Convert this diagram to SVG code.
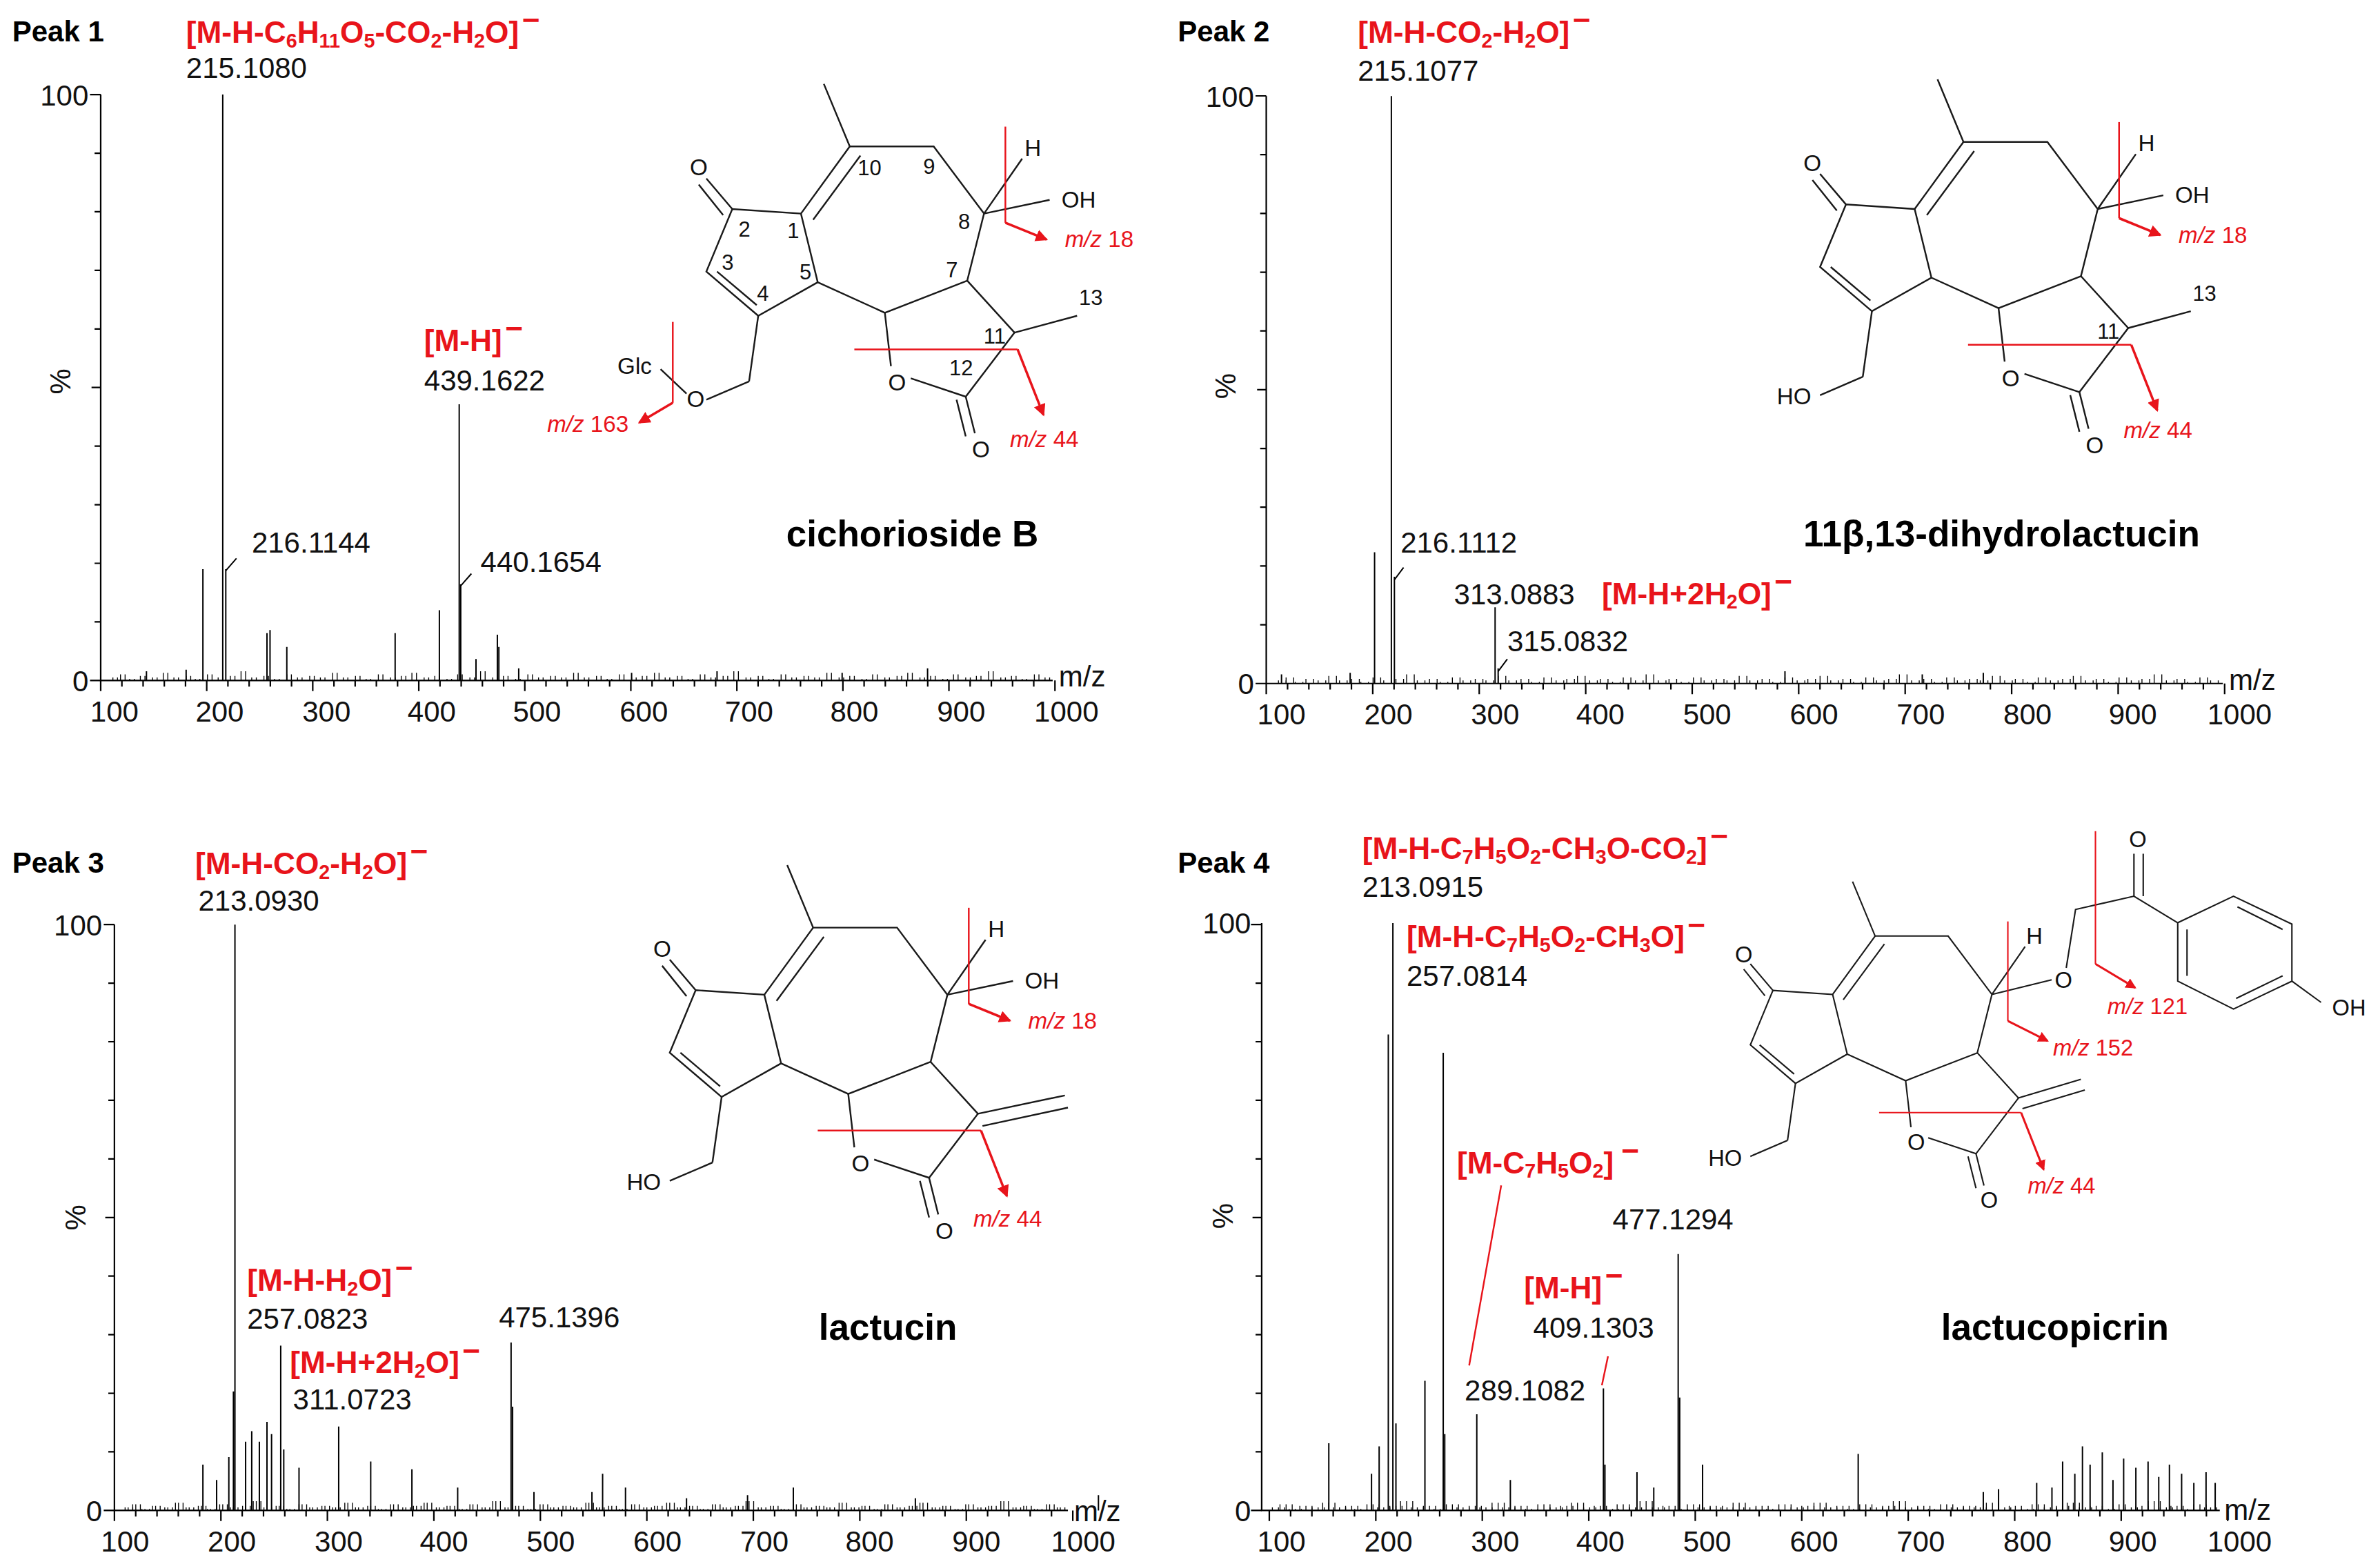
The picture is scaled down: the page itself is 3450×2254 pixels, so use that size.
<svg xmlns="http://www.w3.org/2000/svg" xmlns:xlink="http://www.w3.org/1999/xlink" width="3450" height="2254" viewBox="0 0 3450 2254">
<style>
.ax{stroke:#000;stroke-width:1;fill:none}
.pk{stroke:#000;stroke-width:0.9;fill:none}
.nz{stroke:#000;stroke-width:0.6;fill:none}
.bd{stroke:#1a1a1a;stroke-width:1.1;fill:none}
.rd{stroke:#e8141b;stroke-width:1.1;fill:none}
.ra{stroke:#e8141b;stroke-width:1.6;fill:none}
text{font-family:"Liberation Sans",Arial,sans-serif}
.t{font-size:19px;fill:#111}
.pl{font-size:19px;font-weight:bold;fill:#000}
.rl{font-size:20px;font-weight:bold;fill:#e8141b}
.sb{font-size:13px}
.s{font-size:15px;fill:#111;text-anchor:middle}
.n{font-size:14px;fill:#111;text-anchor:middle}
.mz{font-size:15px;fill:#e8141b}
#struct4 .s,#struct4 .mz{font-size:17px}
.nm{font-size:24px;font-weight:bold;fill:#000;text-anchor:middle}
.c{text-anchor:middle}
.e{text-anchor:end}
</style>
<defs>
<marker id="ah" markerWidth="8" markerHeight="8" refX="7" refY="4" orient="auto" markerUnits="userSpaceOnUse"><path d="M0 0L8 4L0 8z" fill="#e8141b"/></marker>
<path id="xt" class="ax" d="M0 0v7m13.9-7v4m13.9-4v4m13.9-4v4m13.9-4v4m13.9-4v7m13.9-7v4m13.9-4v4m13.9-4v4m13.9-4v4m13.9-4v7m13.9-7v4m13.9-4v4m13.9-4v4m13.9-4v4m13.9-4v7m13.9-7v4m13.9-4v4m13.9-4v4m13.9-4v4m13.9-4v7m13.9-7v4m13.9-4v4m13.9-4v4m13.9-4v4m13.9-4v7m13.9-7v4m13.9-4v4m13.9-4v4m13.9-4v4m13.9-4v7m13.9-7v4m13.9-4v4m13.9-4v4m13.9-4v4m13.9-4v7m13.9-7v4m13.9-4v4m13.9-4v4m13.9-4v4m13.9-4v7m13.9-7v4m13.9-4v4m13.9-4v4m13.9-4v4m13.9-4v7"/>
<path id="yt" class="ax" d="M0 0h-7M0 -38.4h-4M0 -76.8h-4M0 -115.2h-4M0 -153.6h-4M0 -192h-6M0 -230.4h-4M0 -268.8h-4M0 -307.2h-4M0 -345.6h-4M0 -384h-7"/>
<path id="nz" class="nz" d="M4 0v-2M9 0v-4M15 0v-1M22 0v-3M30 0v-2M37 0v-5M44 0v-2M52 0v-3M58 0v-1M66 0v-4M73 0v-2M81 0v-3M88 0v-6M95 0v-2M103 0v-3M110 0v-1M118 0v-4M125 0v-2M133 0v-3M140 0v-2M148 0v-5M155 0v-2M163 0v-3M170 0v-1M178 0v-4M186 0v-2M193 0v-3M200 0v-5M208 0v-2M215 0v-3M223 0v-1M230 0v-4M238 0v-2M245 0v-6M253 0v-2M260 0v-3M268 0v-1M276 0v-4M283 0v-2M291 0v-3M298 0v-2M306 0v-5M313 0v-2M321 0v-3M328 0v-1M336 0v-4M344 0v-2M351 0v-3M359 0v-5M366 0v-2M374 0v-3M381 0v-1M389 0v-4M396 0v-2M404 0v-3M411 0v-6M419 0v-2M427 0v-3M434 0v-1M442 0v-4M449 0v-2M457 0v-3M464 0v-2M472 0v-5M480 0v-2M487 0v-3M495 0v-1M502 0v-4M510 0v-2M518 0v-3M525 0v-5M533 0v-2M540 0v-3M548 0v-1M555 0v-4M563 0v-2M570 0v-3M578 0v-6M586 0v-2M593 0v-3M600 0v-1M608 0v-4M615 0v-2"/>
<g id="core" class="bd">
<path d="M540 55L557 96L612 96L645 140L634 184L580 205L536 185L525 140L480 137L463 178L497 207L536 185"/>
<path d="M557 96L525 140M564 102L533 144"/>
<path d="M480 137L463 117M474 141L458 121"/>
<path d="M470 178L496 200"/>
<path d="M634 184L665 218L633 260L597 248M584 240L580 205"/>
<path d="M633 260L639 284M627 262L633 286"/>
<path d="M497 207L491 250"/>
<path d="M645 140L670 104"/>
</g>
<g id="r44"><path class="rd" d="M560 229H667"/><path class="ra" d="M667 229L684 272" marker-end="url(#ah)"/></g>
<g id="r18"><path class="rd" d="M659 83V146"/><path class="ra" d="M659 146L686 157" marker-end="url(#ah)"/></g>
</defs>
<g transform="scale(2.2115)">
<rect x="0" y="0" width="1560" height="1020" fill="#fff"/>

<!-- Panel 1 -->
<g id="panel1">
<text class="pl" x="8" y="27">Peak 1</text>
<path class="ax" d="M66 62V446H690"/>
<use href="#xt" x="66" y="446"/>
<use href="#yt" x="66" y="446"/>
<use href="#nz" x="70" y="446"/>
<use href="#nz" x="73" y="446"/>
<text class="t e" x="58" y="69">100</text>
<text class="t e" x="58" y="453">0</text>
<text class="t c" transform="translate(46,250) rotate(-90)">%</text>
<text class="t" x="694" y="450">m/z</text>
<g class="t c">
<text x="75" y="473">100</text><text x="144" y="473">200</text><text x="214" y="473">300</text><text x="283" y="473">400</text><text x="352" y="473">500</text><text x="422" y="473">600</text><text x="491" y="473">700</text><text x="560" y="473">800</text><text x="630" y="473">900</text><text x="699" y="473">1000</text>
</g>
<path class="pk" d="M133 446V373M146 446V62M148 446V373M175 446V415M177 446V413M188 446V424M259 446V415M288 446V400M301 446V265M302 446V383M312 446V432M326 446V416M327 446V424M340 446V438M96 446V440M122 446V439M608 446V438M470 446V440M552 446V441M414 446V441"/>
<path class="pk" d="M148 374L155 366M302 384L309 376"/>
<text class="rl" x="122" y="28">[M-H-C<tspan class="sb" dy="3">6</tspan><tspan dy="-3">H</tspan><tspan class="sb" dy="3">11</tspan><tspan dy="-3">O</tspan><tspan class="sb" dy="3">5</tspan><tspan dy="-3">-CO</tspan><tspan class="sb" dy="3">2</tspan><tspan dy="-3">-H</tspan><tspan class="sb" dy="3">2</tspan><tspan dy="-3">O]</tspan><tspan dx="2" dy="-8">−</tspan></text>
<text class="t" x="122" y="51">215.1080</text>
<text class="rl" x="278" y="230">[M-H]<tspan dx="2" dy="-8">−</tspan></text>
<text class="t" x="278" y="256">439.1622</text>
<text class="t" x="165" y="362">216.1144</text>
<text class="t" x="315" y="375">440.1654</text>
<g id="struct1">
<use href="#core"/>
<path class="bd" d="M645 140L688 131M491 250L463 262M450 258L433 242M665 218L706 207"/>
<text class="s" x="458" y="115">O</text>
<text class="s" x="588" y="256">O</text>
<text class="s" x="643" y="300">O</text>
<text class="s" x="456" y="267">O</text>
<text class="s" x="677" y="102">H</text>
<text class="s" x="707" y="136">OH</text>
<text class="s" x="416" y="245">Glc</text>
<g class="n"><text x="488" y="155">2</text><text x="520" y="156">1</text><text x="477" y="177">3</text><text x="500" y="197">4</text><text x="528" y="183">5</text><text x="624" y="182">7</text><text x="632" y="150">8</text><text x="609" y="114">9</text><text x="570" y="115">10</text><text x="652" y="225">11</text><text x="630" y="246">12</text><text x="715" y="200">13</text></g>
<use href="#r18"/><use href="#r44"/>
<path class="rd" d="M441 211V264"/><path class="ra" d="M441 264L419 277" marker-end="url(#ah)"/>
<text class="mz" x="412" y="283" text-anchor="end"><tspan font-style="italic">m/z</tspan> 163</text>
<text class="mz" x="698" y="162"><tspan font-style="italic">m/z</tspan> 18</text>
<text class="mz" x="662" y="293"><tspan font-style="italic">m/z</tspan> 44</text>
</g>
<text class="nm" x="598" y="358">cichorioside B</text>
</g>

<!-- Panel 2 -->
<g id="panel2">
<text class="pl" x="772" y="27">Peak 2</text>
<path class="ax" d="M830 63V448H1457"/>
<use href="#xt" x="830" y="448" transform="translate(830,448) scale(1.0043,1) translate(-830,-448)"/>
<use href="#yt" x="830" y="448" transform="translate(830,448) scale(1,1.003) translate(-830,-448)"/>
<use href="#nz" x="834" y="448"/>
<use href="#nz" x="839" y="448"/>
<text class="t e" x="822" y="70">100</text>
<text class="t e" x="822" y="455">0</text>
<text class="t c" transform="translate(810,253) rotate(-90)">%</text>
<text class="t" x="1461" y="452">m/z</text>
<g class="t c">
<text x="840" y="475">100</text><text x="910" y="475">200</text><text x="980" y="475">300</text><text x="1049" y="475">400</text><text x="1119" y="475">500</text><text x="1189" y="475">600</text><text x="1259" y="475">700</text><text x="1329" y="475">800</text><text x="1398" y="475">900</text><text x="1468" y="475">1000</text>
</g>
<path class="pk" d="M901 448V362M912 448V63M914 448V378M980 448V398M982 448V438M885 448V441M1170 448V440M840 448V442M1260 448V442M1300 448V441"/>
<path class="pk" d="M914 380L920 372M982 440L988 432"/>
<text class="rl" x="890" y="28">[M-H-CO<tspan class="sb" dy="3">2</tspan><tspan dy="-3">-H</tspan><tspan class="sb" dy="3">2</tspan><tspan dy="-3">O]</tspan><tspan dx="2" dy="-8">−</tspan></text>
<text class="t" x="890" y="53">215.1077</text>
<text class="t" x="918" y="362">216.1112</text>
<text class="t" x="953" y="396">313.0883</text>
<text class="t" x="988" y="427">315.0832</text>
<text class="rl" x="1050" y="396">[M-H+2H<tspan class="sb" dy="3">2</tspan><tspan dy="-3">O]</tspan><tspan dx="2" dy="-8">−</tspan></text>
<g id="struct2" transform="translate(730,-3)">
<use href="#core"/>
<path class="bd" d="M645 140L688 131M491 250L463 262M665 218L706 207"/>
<text class="s" x="458" y="115">O</text>
<text class="s" x="588" y="256">O</text>
<text class="s" x="643" y="300">O</text>
<text class="s" x="446" y="268">HO</text>
<text class="s" x="677" y="102">H</text>
<text class="s" x="707" y="136">OH</text>
<g class="n"><text x="652" y="225">11</text><text x="715" y="200">13</text></g>
<use href="#r18"/><use href="#r44"/>
<text class="mz" x="698" y="162"><tspan font-style="italic">m/z</tspan> 18</text>
<text class="mz" x="662" y="290"><tspan font-style="italic">m/z</tspan> 44</text>
</g>
<text class="nm" x="1312" y="358">11β,13-dihydrolactucin</text>
</g>

<!-- Panel 3 -->
<g id="panel3">
<text class="pl" x="8" y="572">Peak 3</text>
<path class="ax" d="M75 606V990H700"/>
<use href="#xt" x="75" y="990" transform="translate(75,990) scale(1.0043,1) translate(-75,-990)"/>
<use href="#yt" x="75" y="990"/>
<use href="#nz" x="78" y="990"/>
<use href="#nz" x="80" y="990"/>
<use href="#nz" x="83" y="990"/>
<text class="t e" x="67" y="613">100</text>
<text class="t e" x="67" y="997">0</text>
<text class="t c" transform="translate(56,798) rotate(-90)">%</text>
<text class="t" x="704" y="997">m/z</text>
<g class="t c">
<text x="82" y="1017">100</text><text x="152" y="1017">200</text><text x="222" y="1017">300</text><text x="291" y="1017">400</text><text x="361" y="1017">500</text><text x="431" y="1017">600</text><text x="501" y="1017">700</text><text x="570" y="1017">800</text><text x="640" y="1017">900</text><text x="710" y="1017">1000</text>
</g>
<path class="pk" d="M154 990V606M153 990V912M184 990V882M335 990V880M336 990V922M222 990V935M161 990V945M165 990V938M170 990V945M175 990V932M178 990V940M186 990V950M196 990V962M243 990V958M270 990V963M300 990V975M133 990V960M142 990V970M150 990V955M388 990V978M395 990V966M520 990V975M490 990V980M720 990V980M350 990V978M410 990V975M450 990V982M600 990V982"/>
<text class="rl" x="128" y="573">[M-H-CO<tspan class="sb" dy="3">2</tspan><tspan dy="-3">-H</tspan><tspan class="sb" dy="3">2</tspan><tspan dy="-3">O]</tspan><tspan dx="2" dy="-8">−</tspan></text>
<text class="t" x="130" y="597">213.0930</text>
<text class="rl" x="162" y="846">[M-H-H<tspan class="sb" dy="3">2</tspan><tspan dy="-3">O]</tspan><tspan dx="2" dy="-8">−</tspan></text>
<text class="t" x="162" y="871">257.0823</text>
<text class="rl" x="190" y="900">[M-H+2H<tspan class="sb" dy="3">2</tspan><tspan dy="-3">O]</tspan><tspan dx="2" dy="-8">−</tspan></text>
<text class="t" x="192" y="924">311.0723</text>
<text class="t" x="327" y="870">475.1396</text>
<g id="struct3" transform="translate(-24,512)">
<use href="#core"/>
<path class="bd" d="M645 140L688 131M491 250L463 262M665 218L722 206M668 226L724 214"/>
<text class="s" x="458" y="115">O</text>
<text class="s" x="588" y="256">O</text>
<text class="s" x="643" y="300">O</text>
<text class="s" x="446" y="268">HO</text>
<text class="s" x="677" y="102">H</text>
<text class="s" x="707" y="136">OH</text>
<use href="#r18"/><use href="#r44"/>
<text class="mz" x="698" y="162"><tspan font-style="italic">m/z</tspan> 18</text>
<text class="mz" x="662" y="292"><tspan font-style="italic">m/z</tspan> 44</text>
</g>
<text class="nm" x="582" y="878">lactucin</text>
</g>

<!-- Panel 4 -->
<g id="panel4">
<text class="pl" x="772" y="572">Peak 4</text>
<path class="ax" d="M827 605V990H1455"/>
<use href="#xt" x="832" y="990" transform="translate(832,990) scale(1.0043,1) translate(-832,-990)"/>
<use href="#yt" x="827" y="990"/>
<use href="#nz" x="830" y="990"/>
<use href="#nz" x="834" y="990"/>
<use href="#nz" x="838" y="990"/>
<text class="t e" x="820" y="612">100</text>
<text class="t e" x="820" y="997">0</text>
<text class="t c" transform="translate(808,797) rotate(-90)">%</text>
<text class="t" x="1458" y="996">m/z</text>
<g class="t c">
<text x="840" y="1017">100</text><text x="910" y="1017">200</text><text x="980" y="1017">300</text><text x="1049" y="1017">400</text><text x="1119" y="1017">500</text><text x="1189" y="1017">600</text><text x="1259" y="1017">700</text><text x="1329" y="1017">800</text><text x="1398" y="1017">900</text><text x="1468" y="1017">1000</text>
</g>
<path class="pk" d="M910 990V678M913 990V605M915 990V933M946 990V690M947 990V940M934 990V905M968 990V927M1051 990V910M1052 990V960M1100 990V822M1101 990V916M1116 990V960M1218 990V953M871 990V946M899 990V966M904 990V948M990 990V970M1073 990V965M1084 990V975M1352 990V958M1360 990V966M1365 990V948M1370 990V960M1378 990V952M1385 990V970M1392 990V956M1400 990V962M1408 990V958M1415 990V968M1422 990V960M1430 990V966M1438 990V972M1446 990V965M1452 990V972M1345 990V975M1335 990V972M1310 990V976M1300 990V978"/>
<text class="rl" x="893" y="563">[M-H-C<tspan class="sb" dy="3">7</tspan><tspan dy="-3">H</tspan><tspan class="sb" dy="3">5</tspan><tspan dy="-3">O</tspan><tspan class="sb" dy="3">2</tspan><tspan dy="-3">-CH</tspan><tspan class="sb" dy="3">3</tspan><tspan dy="-3">O-CO</tspan><tspan class="sb" dy="3">2</tspan><tspan dy="-3">]</tspan><tspan dx="2" dy="-8">−</tspan></text>
<text class="t" x="893" y="588">213.0915</text>
<text class="rl" x="922" y="621">[M-H-C<tspan class="sb" dy="3">7</tspan><tspan dy="-3">H</tspan><tspan class="sb" dy="3">5</tspan><tspan dy="-3">O</tspan><tspan class="sb" dy="3">2</tspan><tspan dy="-3">-CH</tspan><tspan class="sb" dy="3">3</tspan><tspan dy="-3">O]</tspan><tspan dx="2" dy="-8">−</tspan></text>
<text class="t" x="922" y="646">257.0814</text>
<text class="rl" x="955" y="769">[M-C<tspan class="sb" dy="3">7</tspan><tspan dy="-3">H</tspan><tspan class="sb" dy="3">5</tspan><tspan dy="-3">O</tspan><tspan class="sb" dy="3">2</tspan><tspan dy="-3">]</tspan><tspan dx="5" dy="-8">−</tspan></text>
<path class="rd" d="M984 777L963 895M1054 889L1050 908"/>
<text class="t" x="960" y="918">289.1082</text>
<text class="rl" x="999" y="851">[M-H]<tspan dx="2" dy="-8">−</tspan></text>
<text class="t" x="1005" y="877">409.1303</text>
<text class="t" x="1057" y="806">477.1294</text>
<g id="struct4" transform="translate(744.5,530) scale(0.87)">
<use href="#core"/>
<path class="bd" d="M491 250L463 262M665 218L712 204M668 226L715 212"/>
<path class="bd" d="M645 140L690 129M701 120L708 76L752 66L785 86"/>
<path class="bd" d="M785 86L827 66L871 87L871 130L827 151L785 130Z"/>
<path class="bd" d="M752 66V34M759 66V34"/>
<path class="bd" d="M830 74L864 91M864 126L829 143M792 126V91M871 130L893 146"/>
<text class="s" x="458" y="116">O</text>
<text class="s" x="588" y="257">O</text>
<text class="s" x="643" y="301">O</text>
<text class="s" x="444" y="269">HO</text>
<text class="s" x="677" y="102">H</text>
<text class="s" x="699" y="135">O</text>
<text class="s" x="755" y="29">O</text>
<text class="s" x="914" y="156">OH</text>
<use href="#r44"/>
<path class="rd" d="M723 17V117"/><path class="ra" d="M723 117L753 135" marker-end="url(#ah)"/>
<path class="rd" d="M657 85V160"/><path class="ra" d="M657 160L687 175" marker-end="url(#ah)"/>
<text class="mz" x="732" y="155"><tspan font-style="italic">m/z</tspan> 121</text>
<text class="mz" x="691" y="186"><tspan font-style="italic">m/z</tspan> 152</text>
<text class="mz" x="672" y="290"><tspan font-style="italic">m/z</tspan> 44</text>
</g>
<text class="nm" x="1347" y="878">lactucopicrin</text>
</g>
</g>
</svg>
